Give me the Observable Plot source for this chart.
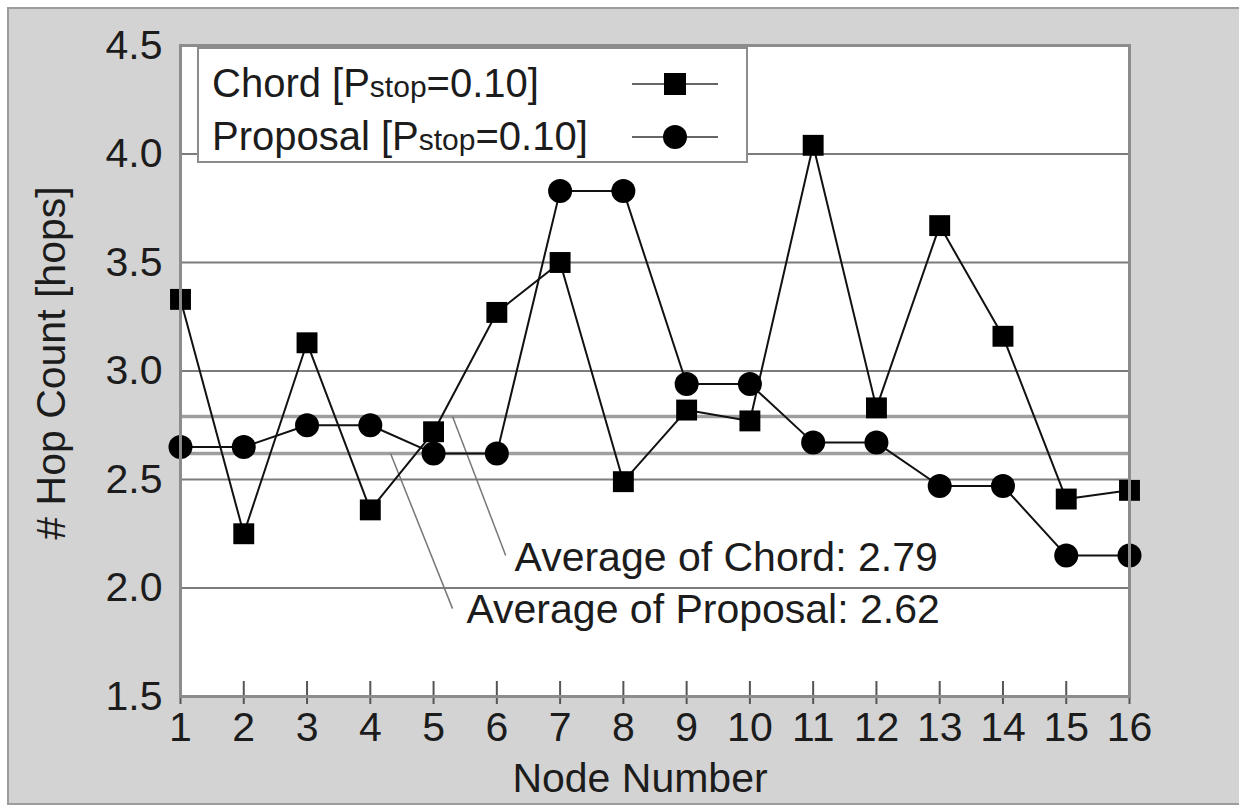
<!DOCTYPE html>
<html>
<head>
<meta charset="utf-8">
<script src="https://cdn.jsdelivr.net/npm/d3@7"></script>
<script src="https://cdn.jsdelivr.net/npm/@observablehq/plot@0.6"></script>
<style>
  html, body { margin: 0; padding: 0; background: #fff; overflow: hidden; width: 1239px; height: 806px; }
  #frame { position: absolute; left: 7px; top: 7px; width: 1240px; height: 794px;
           border: 2px solid #9c9c9c; background: #d3d3d3; }
  #legend { position: absolute; left: 197px; top: 47px; width: 551px; height: 116px; box-sizing: border-box;
            border: 2px solid #8c8c8c; background: #fff; font-family: "Liberation Sans", Arial, sans-serif;
            color: #1c1c1c; font-size: 40px; }
  .row { position: absolute; left: 13px; line-height: 40px; white-space: nowrap; }
  .row small { font-size: 30px; }
  .sym { position: absolute; left: 433px; }
</style>
</head>
<body>
<div id="frame"></div>
<div id="legend">
  <div class="row" style="top:14px">Chord [P<small>stop</small>=0.10]</div>
  <div class="row" style="top:67px">Proposal [P<small>stop</small>=0.10]</div>
  <svg class="sym" style="top:17px" width="90" height="36">
    <line x1="0" x2="86" y1="18" y2="18" stroke="#666" stroke-width="2"/>
    <rect x="32" y="7" width="22" height="22" fill="#000"/>
  </svg>
  <svg class="sym" style="top:70px" width="90" height="36">
    <line x1="0" x2="86" y1="18" y2="18" stroke="#666" stroke-width="2"/>
    <circle cx="43" cy="18" r="12" fill="#000"/>
  </svg>
</div>
<script>
const nodes = [1, 2, 3, 4, 5, 6, 7, 8, 9, 10, 11, 12, 13, 14, 15, 16];
const chord = [3.33, 2.25, 3.13, 2.36, 2.72, 3.27, 3.50, 2.49, 2.82, 2.77, 4.04, 2.83, 3.67, 3.16, 2.41, 2.45];
const proposal = [2.65, 2.65, 2.75, 2.75, 2.62, 2.62, 3.83, 3.83, 2.94, 2.94, 2.67, 2.67, 2.47, 2.47, 2.15, 2.15];
const yTicks = [1.5, 2.0, 2.5, 3.0, 3.5, 4.0, 4.5];
const gridValues = [2.0, 2.5, 3.0, 3.5, 4.0];
const averages = [2.79, 2.62];
const averageLabels = ["Average of Chord: 2.79", "Average of Proposal: 2.62"];
const xLabel = "Node Number";
const yLabel = "# Hop Count [hops]";

const rows = nodes.map((n, i) => ({node: n, chord: chord[i], proposal: proposal[i]}));
const font = "'Liberation Sans', Arial, sans-serif";
const txt = "#1c1c1c";

const chart = Plot.plot({
  width: 1240,
  height: 794,
  marginLeft: 171,
  marginTop: 36,
  marginRight: 120,
  marginBottom: 107,
  style: {fontFamily: font, background: "transparent", overflow: "visible"},
  x: {domain: [1, 16]},
  y: {domain: [1.5, 4.5]},
  marks: [
    Plot.frame({fill: "white", stroke: null}),
    Plot.ruleY(gridValues, {stroke: "#7c7c7c", strokeWidth: 2}),
    Plot.ruleY(averages, {stroke: "#9e9e9e", strokeWidth: 3.5}),
    Plot.link([averages[0]], {x1: 5.30, y1: d => d, x2: 6.14, y2: 2.15, stroke: "#777", strokeWidth: 1.5}),
    Plot.link([averages[1]], {x1: 4.32, y1: d => d, x2: 5.30, y2: 1.905, stroke: "#777", strokeWidth: 1.5}),
    Plot.ruleX(nodes, {x: d => d, insetTop: 636, insetBottom: -8, stroke: "#555", strokeWidth: 2}),
    Plot.line(rows, {x: "node", y: "chord", stroke: "#111", strokeWidth: 2}),
    Plot.line(rows, {x: "node", y: "proposal", stroke: "#111", strokeWidth: 2}),
    Plot.dot(rows, {x: "node", y: "chord", symbol: "square", r: 11.8, fill: "#000", stroke: null}),
    Plot.dot(rows, {x: "node", y: "proposal", symbol: "circle", r: 12, fill: "#000", stroke: null}),
    Plot.text([averageLabels[0]], {x: 6.28, y: 2.14, textAnchor: "start", fontSize: 41, fill: txt}),
    Plot.text([averageLabels[1]], {x: 5.52, y: 1.90, textAnchor: "start", fontSize: 41, fill: txt}),
    Plot.axisY({ticks: yTicks, tickFormat: d3.format(".1f"), tickSize: 0, tickPadding: 18, fontSize: 41, fill: txt, label: null}),
    Plot.axisX({ticks: nodes, tickFormat: d => String(d), tickSize: 0, tickPadding: 15, fontSize: 41, fill: txt, label: null}),
    Plot.text([xLabel], {frameAnchor: "bottom", textAnchor: "middle", lineAnchor: "middle", dx: -15, dy: 82, fontSize: 41, fill: txt}),
    Plot.text([yLabel], {frameAnchor: "left", textAnchor: "middle", lineAnchor: "middle", dx: -129, dy: -8, rotate: -90, fontSize: 41, fill: txt}),
    Plot.frame({stroke: "#8c8c8c", strokeWidth: 3})
  ]
});
document.getElementById("frame").appendChild(chart);
</script>
</body>
</html>
